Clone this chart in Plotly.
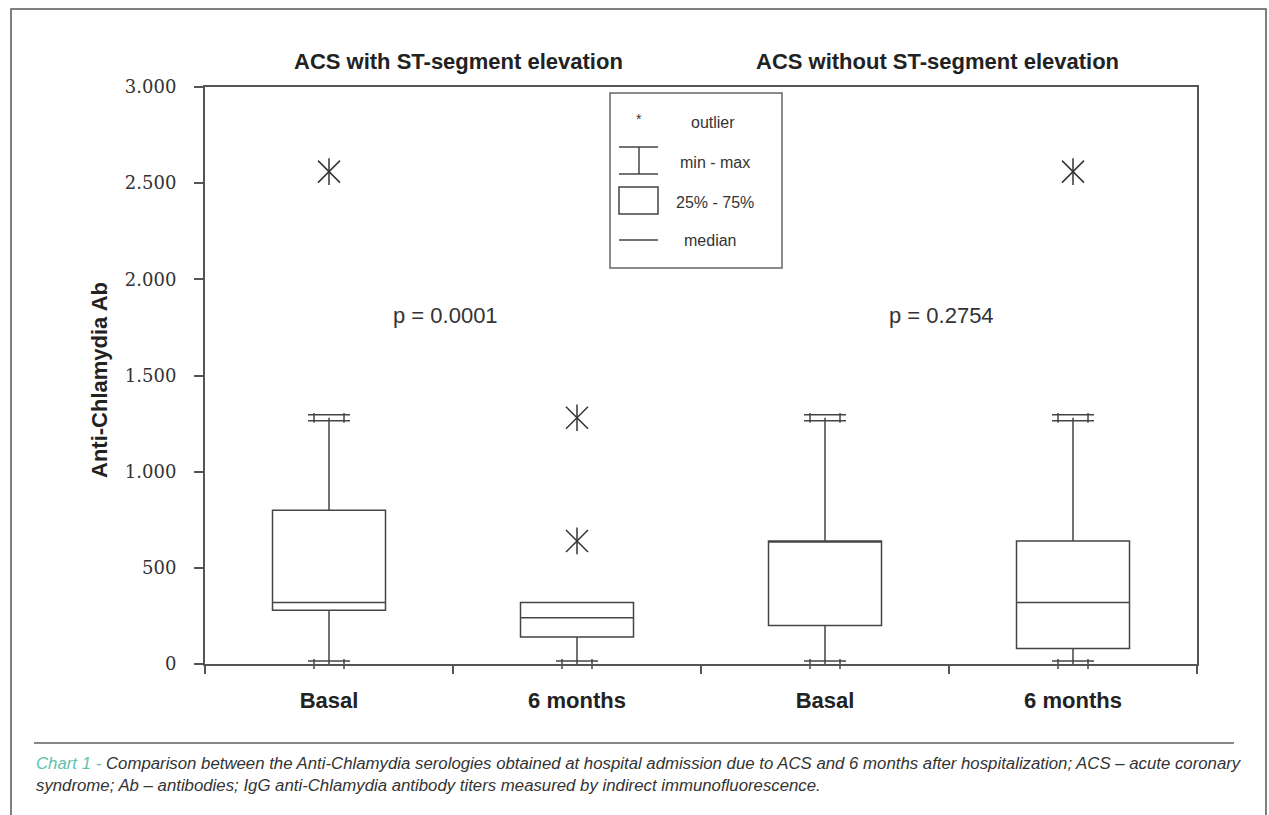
import plotly.graph_objects as go

# ---------------- data ----------------
categories = ["Basal", "6 months", "Basal", "6 months"]
groups = ["ACS with ST-segment elevation", "ACS without ST-segment elevation"]
q1 = [280, 140, 200, 80]
median = [320, 240, 640, 320]
q3 = [800, 320, 640, 640]
minimum = [0, 0, 0, 0]
maximum = [1280, 320, 1280, 1280]
outlier_pos = [0, 1, 1, 3]
outlier_val = [2560, 640, 1280, 2560]
p_values = ["p = 0.0001", "p = 0.2754"]
y_tickvals = [0, 500, 1000, 1500, 2000, 2500, 3000]
y_ticktext = ["0", "500", "1.000", "1.500", "2.000", "2.500", "3.000"]
y_title = "Anti-Chlamydia Ab"
legend_labels = ["outlier", "min - max", "25% - 75%", "median"]
caption_head = "Chart 1 - "
caption_body = ("Comparison between the Anti-Chlamydia serologies obtained at hospital admission due to ACS "
                "and 6 months after hospitalization; ACS \u2013 acute coronary<br>syndrome; Ab \u2013 antibodies; "
                "IgG anti-Chlamydia antibody titers measured by indirect immunofluorescence.")

# ---------------- layout geometry (pixels) ----------------
W, H = 1269, 815
L, R, T, B = 205, 1197, 87, 664
YMAX = 3000
xpos = list(range(len(categories)))

def px(xp):
    return (xp - L) / (R - L)

def py(yp):
    return (B - yp) / (B - T)

unit_per_px_y = YMAX / (B - T)
unit_per_px_x = len(categories) / (R - L)
LINE = "#444444"

fig = go.Figure()

fig.add_trace(go.Box(
    x=xpos, q1=q1, median=median, q3=q3, lowerfence=minimum, upperfence=maximum,
    width=113 * unit_per_px_x, whiskerwidth=0, fillcolor="white",
    line=dict(color=LINE, width=1.5), boxpoints=False, showlegend=False, hoverinfo="skip"))

# whisker caps drawn as thin rectangles (two horizontal + two vertical strokes)
hx, hy, vx, vy = [], [], [], []
dy = 3 * unit_per_px_y
dx = 15 * unit_per_px_x
for i in xpos:
    ends = []
    if minimum[i] < q1[i]:
        ends.append(minimum[i])
    if maximum[i] > q3[i]:
        ends.append(maximum[i])
    for v in ends:
        hx += [i, i]
        hy += [v + dy, v - dy]
        vx += [i - dx, i + dx]
        vy += [v, v]
fig.add_trace(go.Scatter(x=hx, y=hy, mode="markers", cliponaxis=False, showlegend=False, hoverinfo="skip",
                         marker=dict(symbol="line-ew-open", size=30, color=LINE, line=dict(color=LINE, width=1.5))))
fig.add_trace(go.Scatter(x=vx, y=vy, mode="markers", cliponaxis=False, showlegend=False, hoverinfo="skip",
                         marker=dict(symbol="line-ns-open", size=7, color=LINE, line=dict(color=LINE, width=1.5))))

# outliers: six-armed asterisk
fig.add_trace(go.Scatter(x=outlier_pos, y=outlier_val, mode="markers", showlegend=False, hoverinfo="skip",
                         marker=dict(symbol="x-thin-open", size=22, color="#333333",
                                     line=dict(color="#333333", width=1.5))))
fig.add_trace(go.Scatter(x=outlier_pos, y=outlier_val, mode="markers", showlegend=False, hoverinfo="skip",
                         marker=dict(symbol="line-ns-open", size=19, color="#333333",
                                     line=dict(color="#333333", width=1.5))))

annotations = []
# group titles
for g, cx in zip(groups, [458, 937]):
    annotations.append(dict(text=g, x=px(cx), y=py(62), xref="paper", yref="paper", showarrow=False,
                            xanchor="center", yanchor="middle",
                            font=dict(family="Liberation Sans, Arial", size=22, color="#222222", weight="bold")))
# p values
for p, cx in zip(p_values, [445, 941]):
    annotations.append(dict(text=p, x=px(cx), y=py(315), xref="paper", yref="paper", showarrow=False,
                            xanchor="center", yanchor="middle",
                            font=dict(family="Liberation Sans, Arial", size=22, color="#333333")))
# y title
annotations.append(dict(text=y_title, x=px(100), y=py(380), xref="paper", yref="paper", showarrow=False,
                        textangle=-90, xanchor="center", yanchor="middle",
                        font=dict(family="Liberation Sans, Arial", size=22, color="#222222", weight="bold")))
# legend texts
annotations.append(dict(text="*", x=px(639), y=py(119), xref="paper", yref="paper", showarrow=False,
                        xanchor="center", yanchor="middle", font=dict(family="Liberation Sans", size=14, color="#333")))
for lab, cx, cy in zip(legend_labels, [713, 715, 715, 710], [122, 162, 202, 241]):
    annotations.append(dict(text=lab, x=px(cx), y=py(cy), xref="paper", yref="paper", showarrow=False,
                            xanchor="center", yanchor="middle",
                            font=dict(family="Liberation Sans, Arial", size=16, color="#333333")))
# caption
annotations.append(dict(text=f"<i><span style='color:#5fc0b1'>{caption_head}</span>{caption_body}</i>",
                        x=px(34), y=py(752), xref="paper", yref="paper", showarrow=False,
                        xanchor="left", yanchor="top", align="left",
                        font=dict(family="Liberation Sans, Arial", size=16.8, color="#333333")))

shapes = []
# outer frame
shapes.append(dict(type="rect", xref="paper", yref="paper", x0=px(11), x1=px(1266), y0=py(840), y1=py(9),
                   line=dict(color="#555555", width=1.5), fillcolor="rgba(0,0,0,0)"))
# caption separator
shapes.append(dict(type="line", xref="paper", yref="paper", x0=px(34), x1=px(1234), y0=py(743), y1=py(743),
                   line=dict(color="#888888", width=2)))
# legend box
shapes.append(dict(type="rect", xref="paper", yref="paper", x0=px(610), x1=px(782), y0=py(268), y1=py(93),
                   line=dict(color="#666666", width=1.5), fillcolor="white"))
lg = dict(color=LINE, width=1.5)
shapes += [
    dict(type="line", xref="paper", yref="paper", x0=px(619), x1=px(658), y0=py(147), y1=py(147), line=lg),
    dict(type="line", xref="paper", yref="paper", x0=px(619), x1=px(658), y0=py(174), y1=py(174), line=lg),
    dict(type="line", xref="paper", yref="paper", x0=px(639), x1=px(639), y0=py(147), y1=py(174), line=lg),
    dict(type="rect", xref="paper", yref="paper", x0=px(619), x1=px(658), y0=py(214), y1=py(187), line=lg),
    dict(type="line", xref="paper", yref="paper", x0=px(619), x1=px(658), y0=py(240), y1=py(240), line=lg),
]

fig.update_layout(
    width=W, height=H, margin=dict(l=L, r=W - R, t=T, b=H - B, pad=0),
    paper_bgcolor="white", plot_bgcolor="white", showlegend=False,
    annotations=annotations, shapes=shapes,
    xaxis=dict(range=[-0.5, len(categories) - 0.5], tickmode="array", tickvals=xpos, ticktext=categories,
               ticks="", showline=True, linecolor="#555555", linewidth=2, mirror=True,
               showgrid=False, zeroline=False, ticklabelstandoff=16,
               tickfont=dict(family="Liberation Sans, Arial", size=22, color="#222222", weight="bold"),
               minor=dict(tickmode="array", tickvals=[v + 0.5 for v in [-1] + xpos], ticks="outside",
                          ticklen=8, tickwidth=1.5, tickcolor="#555555", showgrid=False)),
    yaxis=dict(range=[0, YMAX], tickmode="array", tickvals=y_tickvals, ticktext=y_ticktext,
               ticks="outside", ticklen=9, tickwidth=1.5, tickcolor="#555555",
               showline=True, linecolor="#555555", linewidth=2, mirror=True,
               showgrid=False, zeroline=False, ticklabelstandoff=14,
               tickfont=dict(family="DejaVu Serif", size=18, color="#333333")),
)

fig.write_html("out.html")
